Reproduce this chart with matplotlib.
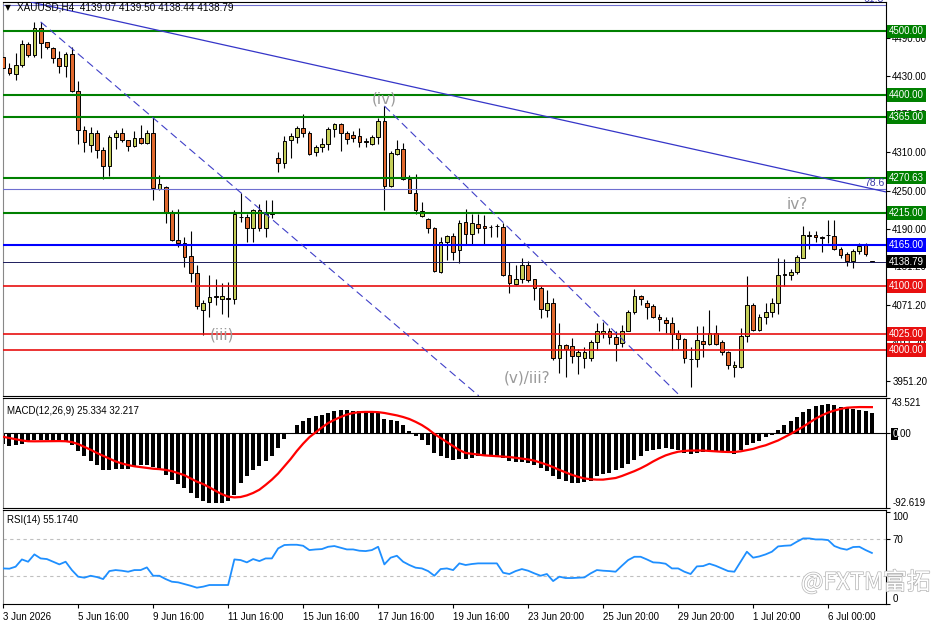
import matplotlib
matplotlib.use("Agg")
import matplotlib.pyplot as plt
import matplotlib.patheffects as pe
from matplotlib.transforms import blended_transform_factory
import numpy as np

# XAUUSD H4 candles
opens = [4460, 4442, 4433, 4447, 4481, 4463, 4505, 4483, 4474, 4459,
         4446, 4464, 4407, 4345, 4321, 4341, 4314, 4289, 4334, 4341,
         4329, 4320, 4333, 4325, 4341, 4252, 4256, 4217, 4173, 4168,
         4147, 4121, 4062, 4075, 4083, 4080, 4081, 4080, 4209, 4208,
         4191, 4219, 4192, 4214, 4301, 4293, 4330, 4335, 4349, 4340,
         4311, 4319, 4323, 4347, 4354, 4341, 4337, 4336, 4328, 4324,
         4334, 4360, 4257, 4308, 4316, 4268, 4247, 4211, 4205, 4191,
         4123, 4169, 4179, 4157, 4201, 4182, 4198, 4195, 4193, 4194,
         4193, 4118, 4104, 4112, 4134, 4111, 4097, 4063, 4074, 3987,
         4007, 4006, 3990, 3988, 3988, 4012, 4026, 4029, 4020, 4011,
         4030, 4059, 4085, 4074, 4069, 4052, 4047, 4043, 4026, 4017,
         3985, 3985, 4014, 4009, 4026, 4013, 3996, 3973, 3974, 4022,
         4071, 4032, 4051, 4060, 4074, 4118, 4118, 4123, 4145, 4179,
         4180, 4177, 4180, 4179, 4159, 4151, 4140, 4155, 4165, 4139.07]
highs = [4468, 4450, 4466, 4486, 4484, 4515, 4515, 4484, 4476, 4470,
         4468, 4475, 4422, 4352, 4350, 4345, 4319, 4337, 4345, 4348,
         4330, 4343, 4353, 4345, 4365, 4275, 4257, 4219, 4222, 4178,
         4186, 4133, 4078, 4118, 4112, 4105, 4107, 4220, 4246, 4214,
         4222, 4229, 4235, 4235, 4310, 4336, 4340, 4352, 4370, 4343,
         4322, 4332, 4350, 4357, 4356, 4343, 4343, 4349, 4332, 4337,
         4364, 4383, 4313, 4330, 4325, 4275, 4276, 4233, 4207, 4193,
         4178, 4180, 4183, 4204, 4222, 4213, 4213, 4212, 4196, 4198,
         4199, 4138, 4133, 4144, 4139, 4112, 4100, 4094, 4081, 4042,
         4010, 4018, 4002, 4005, 4016, 4043, 4044, 4034, 4029, 4039,
         4063, 4095, 4087, 4078, 4072, 4057, 4052, 4051, 4031, 4018,
         4005, 4037, 4037, 4063, 4039, 4016, 3999, 3982, 4034, 4116,
         4073, 4057, 4074, 4081, 4144, 4143, 4127, 4149, 4195, 4187,
         4186, 4179, 4204, 4204, 4162, 4153, 4159, 4168, 4168, 4139.50]
lows = [4426, 4431, 4424, 4444, 4460, 4460, 4458, 4473, 4451, 4435,
        4429, 4405, 4324, 4311, 4311, 4301, 4269, 4273, 4315, 4327,
        4313, 4319, 4323, 4323, 4236, 4251, 4199, 4171, 4162, 4130,
        4107, 4065, 4023, 4052, 4071, 4057, 4052, 4072, 4201, 4170,
        4170, 4187, 4177, 4207, 4280, 4285, 4301, 4325, 4335, 4306,
        4304, 4310, 4314, 4335, 4313, 4324, 4327, 4318, 4319, 4322,
        4324, 4219, 4256, 4306, 4267, 4246, 4214, 4209, 4183, 4123,
        4121, 4141, 4141, 4136, 4167, 4167, 4184, 4167, 4178, 4178,
        4116, 4089, 4102, 4105, 4107, 4079, 4050, 4052, 3984, 3964,
        3958, 3979, 3962, 3971, 3982, 4000, 4018, 4010, 3982, 4005,
        4029, 4057, 4071, 4048, 4050, 4029, 4026, 4000, 4002, 3980,
        3942, 3974, 3989, 4008, 4008, 3992, 3970, 3958, 3971, 4013,
        4029, 4029, 4041, 4052, 4057, 4100, 4110, 4119, 4144, 4159,
        4170, 4154, 4168, 4157, 4144, 4132, 4128, 4151, 4147, 4138.44]
closes = [4442, 4434, 4447, 4481, 4463, 4505, 4482, 4476, 4459, 4446,
          4464, 4407, 4345, 4327, 4341, 4314, 4289, 4334, 4341, 4330,
          4320, 4333, 4325, 4341, 4254, 4260, 4217, 4173, 4168, 4146,
          4121, 4069, 4074, 4083, 4084, 4084, 4080, 4214, 4208, 4191,
          4219, 4191, 4214, 4216, 4293, 4328, 4336, 4349, 4340, 4308,
          4319, 4323, 4347, 4354, 4341, 4331, 4332, 4327, 4326, 4334,
          4360, 4257, 4309, 4316, 4268, 4247, 4219, 4218, 4191, 4124,
          4169, 4179, 4154, 4200, 4182, 4199, 4192, 4191, 4193, 4194,
          4118, 4105, 4112, 4134, 4110, 4098, 4064, 4074, 3987, 4007,
          4001, 3990, 3996, 3996, 4012, 4029, 4029, 4020, 4009, 4030,
          4059, 4085, 4080, 4068, 4051, 4048, 4043, 4025, 4017, 3987,
          3985, 4015, 4009, 4026, 4010, 3996, 3976, 3976, 4022, 4071,
          4032, 4052, 4060, 4074, 4118, 4119, 4123, 4146, 4180, 4180,
          4177, 4175, 4181, 4159, 4149, 4139, 4155, 4163, 4151, 4138.79]

macd_hist = [-13.4, -16.3, -14.2, -13.4, -10.1, -8.0, -8.9, -8.0, -10.1, -10.1,
             -10.1, -14.2, -22.5, -28.7, -34.9, -39.8, -45.2, -45.2, -43.9, -43.9,
             -43.9, -42.3, -39.8, -39.8, -42.3, -45.2, -51.4, -57.5, -62.9, -67.9,
             -74.0, -80.2, -84.4, -86.4, -86.4, -86.4, -84.4, -76.1, -61.7, -53.4,
             -45.2, -41.0, -34.9, -28.7, -18.4, -7.2, 0.5, 9.7, 15.5, 18.8,
             20.8, 22.1, 25.0, 27.0, 28.7, 28.3, 27.9, 27.0, 26.2, 26.2,
             25.0, 18.0, 16.7, 14.7, 9.7, 3.1, -3.9, -8.0, -14.2, -24.5,
             -28.7, -30.7, -32.8, -32.0, -32.0, -30.7, -28.7, -28.7, -28.7, -28.7,
             -30.7, -34.0, -35.7, -35.7, -36.9, -39.0, -43.1, -46.4, -52.6, -56.3,
             -58.8, -61.7, -61.7, -60.4, -58.8, -53.4, -50.5, -49.3, -45.2, -43.1,
             -38.2, -32.8, -27.8, -22.5, -21.2, -19.6, -18.4, -19.2, -20.4, -24.5,
             -25.8, -24.5, -23.7, -22.5, -22.5, -23.3, -24.5, -25.4, -20.4, -14.2,
             -12.2, -9.3, -5.2, -2.7, 4.3, 10.5, 14.7, 19.6, 26.2, 30.3,
             33.2, 35.3, 36.1, 34.5, 32.8, 31.2, 30.3, 29.1, 27.0, 25.334]
macd_signal = [-4.5, -6, -7.5, -9, -10, -10.1, -10, -9.8, -9.8, -9.8,
               -10, -11, -13.5, -17, -20.5, -24.5, -28, -31.5, -35, -37.5,
               -39.5, -41, -42, -43, -44, -44.5, -45.5, -47, -49.5, -52,
               -56, -60, -63, -67, -71.5, -75.5, -78.5, -79.5, -79, -77,
               -74, -70, -64, -57.5, -50, -41, -32, -22, -13, -5,
               1, 7, 12.5, 16.5, 20, 23, 25, 26, 26.3, 26.3,
               26, 25, 23.5, 22, 20, 17.5, 14, 10, 5, -1,
               -6, -11, -16, -21, -24.5, -25.5, -26.5, -27.5, -28, -28.5,
               -29, -29.5, -30.5, -31.5, -32.5, -34, -36.5, -39, -42, -45.5,
               -48.5, -51.5, -54, -56, -57, -57.5, -57.5, -56.5, -55.5, -53,
               -50, -47, -43.5, -39.5, -35, -31, -27.5, -25, -23, -22,
               -21.5, -21.5, -21.5, -22, -22.5, -23, -23.3, -23.3, -22.5, -21,
               -19.5, -17, -15, -12, -9, -5, -1, 3.5, 8, 13,
               18, 22, 25.5, 28, 30, 31.5, 32, 32.3, 32.3, 32.217]
rsi = [38.3, 38.0, 40.2, 48.1, 45.6, 53.6, 49.2, 48.5, 45.6, 42.7,
       45.6, 36.5, 29.3, 28.2, 30.3, 28.9, 26.7, 35.4, 36.5, 35.8,
       34.7, 36.5, 36.5, 39.4, 30.3, 30.3, 26.7, 23.8, 23.1, 21.3,
       19.4, 17.3, 18.4, 20.2, 20.2, 20.2, 20.2, 48.1, 47.4, 44.9,
       48.5, 46.3, 49.2, 49.2, 60.1, 63.8, 64.1, 64.1, 63.0, 58.3,
       59.0, 59.4, 61.9, 62.7, 60.9, 59.0, 59.0, 57.6, 57.2, 58.3,
       61.9, 42.7, 50.0, 52.1, 45.6, 42.0, 39.1, 38.3, 35.4, 30.3,
       37.6, 38.3, 36.5, 43.8, 42.0, 43.1, 43.8, 43.8, 43.8, 43.8,
       33.6, 32.2, 35.4, 37.6, 35.8, 32.9, 30.3, 32.2, 24.5, 29.3,
       27.8, 27.8, 28.2, 28.5, 32.9, 36.5, 35.8, 35.4, 34.7, 41.2,
       47.4, 51.0, 51.0, 48.1, 44.9, 44.5, 43.4, 38.3, 38.3, 34.7,
       32.2, 40.5, 40.9, 43.4, 41.2, 38.3, 35.4, 34.7, 45.6, 56.5,
       50.0, 51.4, 53.6, 56.5, 62.3, 63.0, 63.4, 67.4, 71.0, 71.0,
       69.9, 69.9, 69.2, 62.7, 60.1, 58.7, 61.6, 61.9, 58.3, 55.174]

date_ticks = [0, 12, 24, 36, 48, 60, 72, 84, 96, 108, 120, 132]
date_labels = ["3 Jun 2026", "5 Jun 16:00", "9 Jun 16:00", "11 Jun 16:00",
               "15 Jun 16:00", "17 Jun 16:00", "19 Jun 16:00", "23 Jun 20:00",
               "25 Jun 20:00", "29 Jun 20:00", "1 Jul 20:00", "6 Jul 00:00"]
price_ticks = [4490.0, 4430.0, 4370.0, 4310.0, 4250.0, 4190.0, 4131.2, 4071.2, 4011.2, 3951.2]

green_levels = [4500.0, 4400.0, 4365.0, 4270.63, 4215.0]
blue_levels = [4165.0]
red_levels = [4100.0, 4025.0, 4000.0]
last_price = 4138.79
fib_names = ["61.8", "78.6"]
fib_levels = [4541.5, 4252.5]

# drawn objects, (bar, price) anchors
trend_bars, trend_prices = [4.5, 141.3], [4546.0, 4248.0]
chan1_bars, chan1_prices = [6.0, 76.1], [4515.0, 3928.0]
chan2_bars, chan2_prices = [61.0, 108.3], [4383.0, 3928.0]
wave_text = ["(iii)", "(iv)", "(v)/iii?", "iv?"]
wave_bars = [35.0, 61.0, 83.9, 127.0]
wave_prices = [4023.0, 4394.0, 3956.0, 4228.0]

BULL = "#c4ce58"
BEAR = "#e0692e"
plt.rcParams["font.family"] = ["Liberation Sans", "DejaVu Sans"]

W, H = 936, 624
fig = plt.figure(figsize=(W / 100, H / 100), dpi=100)


def panel(top, bottom):
    a = fig.add_axes([3 / W, 1 - bottom / H, 883 / W, (bottom - top) / H])
    a.set_xlim(-0.02, 141.26)
    a.yaxis.tick_right()
    a.tick_params(axis="y", length=3, pad=1.5, labelsize=7, width=0.8)
    for s in a.spines.values():
        s.set_linewidth(0.8)
    a.spines["left"].set_color("#888888")
    return a


ax = panel(2, 396)
ax_macd = panel(398, 508)
ax_rsi = panel(510, 604)

x = np.arange(len(closes))
o, h, l, c = map(np.array, (opens, highs, lows, closes))
up = c >= o

# price panel
ax.vlines(x, l, h, color="black", lw=0.8, zorder=2)
ax.bar(x, np.abs(c - o), bottom=np.minimum(o, c), width=0.6,
       color=np.where(up, BULL, BEAR), edgecolor="black", linewidth=0.7, zorder=3)

for lv in green_levels:
    ax.axhline(lv, color="#008000", lw=1.5, zorder=4)
for lv in blue_levels:
    ax.axhline(lv, color="#0000ff", lw=1.5, zorder=4)
for lv in red_levels:
    ax.axhline(lv, color="#e81010", lw=1.2, zorder=4)
ax.axhline(last_price, color="#1c1c5c", lw=0.7, zorder=4)

tr = blended_transform_factory(ax.transAxes, ax.transData)
for name, lv in zip(fib_names, fib_levels):
    ax.axhline(lv, color="#6f6fd0", lw=0.8, zorder=4)
    ax.text(0.998, lv + 1, name, transform=tr, ha="right", va="bottom",
            fontsize=7.5, color="#3a3aa8", zorder=5)

ax.plot(trend_bars, trend_prices, color="#3535c8", lw=0.9, zorder=4)
ax.plot(chan1_bars, chan1_prices, color="#4040c8", lw=0.8, ls=(0, (7, 4)), zorder=4)
ax.plot(chan2_bars, chan2_prices, color="#4040c8", lw=0.8, ls=(0, (7, 4)), zorder=4)

for t, b, p in zip(wave_text, wave_bars, wave_prices):
    ax.text(b, p, t, ha="center", va="center", fontsize=11, color="#9a9a9a",
            family="DejaVu Sans", zorder=6)

ax.set_ylim(3927.7, 4546.2)
ax.set_yticks(price_ticks)
ax.set_yticklabels([f"{v:.2f}" for v in price_ticks])
ax.set_xticks([])

box_levels = green_levels + blue_levels + [last_price] + red_levels
box_colors = (["#008000"] * len(green_levels) + ["#0000ff"] * len(blue_levels)
              + ["black"] + ["#e81010"] * len(red_levels))
for lv, col in zip(box_levels, box_colors):
    ax.text(1.0035, lv, f"{lv:.2f}", transform=tr, ha="left", va="center",
            fontsize=7, color="white",
            bbox=dict(boxstyle="square,pad=0.18", fc=col, ec="none"),
            clip_on=False, zorder=10)

fig.text(8 / W, 1 - 8 / H, "\u25bc", fontsize=5.5, va="center", ha="center", family="DejaVu Sans")
fig.text(17 / W, 1 - 8 / H, "XAUUSD,H4  4139.07 4139.50 4138.44 4138.79",
         fontsize=7.2, va="center", ha="left")

# MACD panel
ax_macd.bar(x, macd_hist, width=0.64, color="black", zorder=2)
ax_macd.axhline(0, color="black", lw=0.8, zorder=2)
ax_macd.plot(x, macd_signal, color="#ff0000", lw=1.6, zorder=3)
ax_macd.set_ylim(-92.619, 43.521)
ax_macd.set_yticks([43.521, 0, -92.619])
ax_macd.set_yticklabels(["43.521", "0.00", "-92.619"])
lbls = ax_macd.get_yticklabels()
lbls[0].set_va("top")
lbls[2].set_va("bottom")
ax_macd.set_xticks([])
trm = blended_transform_factory(ax_macd.transAxes, ax_macd.transData)
ax_macd.text(1.0071, 0, "0", transform=trm, ha="left", va="center_baseline",
             fontsize=7, color="white",
             bbox=dict(boxstyle="square,pad=0.08", fc="black", ec="none"),
             clip_on=False, zorder=10)
ax_macd.text(0.005, 0.93, "MACD(12,26,9) 25.334 32.217", transform=ax_macd.transAxes,
             fontsize=7, va="top", ha="left")

# RSI panel
ax_rsi.plot(x, rsi, color="#1e8fff", lw=1.3, zorder=3)
for lv in (70, 30):
    ax_rsi.axhline(lv, color="#c0c0c0", lw=0.8, ls=(0, (3, 3)), zorder=1)
ax_rsi.set_ylim(-0.5, 102)
ax_rsi.set_yticks([100, 70, 0])
ax_rsi.set_yticklabels(["100", "70", "0"])
rl = ax_rsi.get_yticklabels()
rl[0].set_va("top")
rl[2].set_va("bottom")
ax_rsi.set_xticks(date_ticks)
ax_rsi.set_xticklabels(date_labels, ha="left")
ax_rsi.tick_params(axis="x", length=3, pad=2.5, labelsize=7, width=0.8)
ax_rsi.text(0.005, 0.95, "RSI(14) 55.1740", transform=ax_rsi.transAxes,
            fontsize=7, va="top", ha="left")

fig.text(801 / W, 1 - 582 / H, "@FXTM富拓", fontsize=17, color="white",
         family=["Noto Sans CJK SC", "DejaVu Sans"], va="center", ha="left",
         path_effects=[pe.withStroke(linewidth=1.0, foreground="#b4b4b4")], zorder=20)

fig.savefig("out.png", dpi=100)
